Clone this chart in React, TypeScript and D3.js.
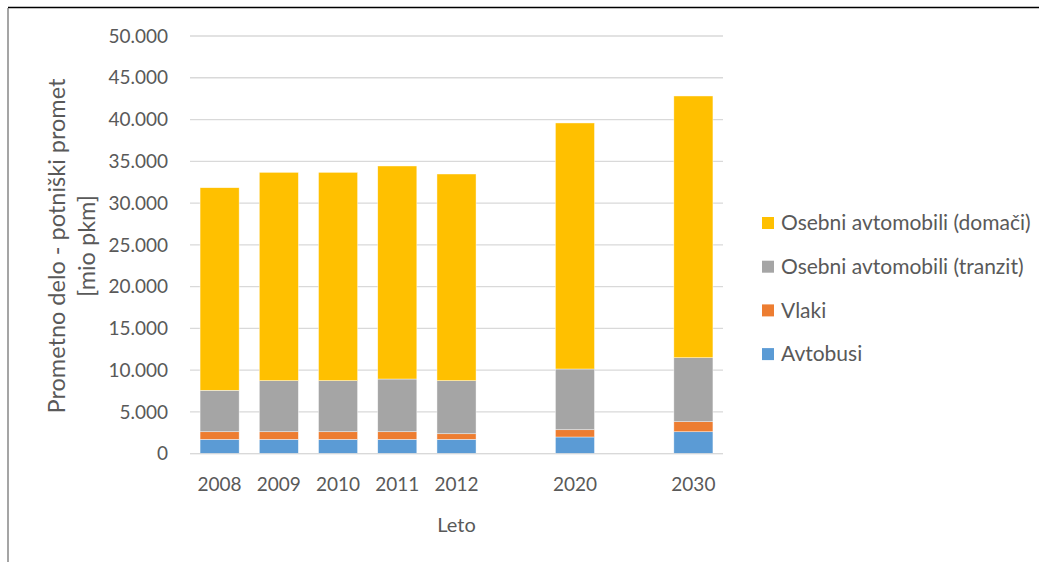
import React, { useEffect, useRef } from 'react';
import * as d3 from 'd3';

const categories = ['2008', '2009', '2010', '2011', '2012', 'gap1', '2020', 'gap2', '2030'];
const years = ['2008', '2009', '2010', '2011', '2012', '2020', '2030'];
const avtobusi = [1720, 1720, 1720, 1720, 1720, 2000, 2630];
const vlaki = [910, 910, 910, 910, 670, 870, 1200];
const tranzit = [4960, 6110, 6110, 6310, 6350, 7270, 7660];
const domaci = [24250, 24940, 24940, 25500, 24740, 29450, 31330];
const seriesNames = ['Avtobusi', 'Vlaki', 'Osebni avtomobili (tranzit)', 'Osebni avtomobili (domači)'];
const seriesColors = ['#5B9BD5', '#ED7D31', '#A5A5A5', '#FFC000'];
const yTicks = [0, 5000, 10000, 15000, 20000, 25000, 30000, 35000, 40000, 45000, 50000];

const FONT = 'Lato, "Open Sans", sans-serif';
const TEXT = '#595959';

export default () => {
  const svgRef = useRef<SVGSVGElement>(null);

  useEffect(() => {
    if (!svgRef.current) return;
    const svg = d3.select(svgRef.current);
    svg.selectAll('*').remove();

    // frame lines
    svg.append('line').attr('x1', 8).attr('x2', 1039).attr('y1', 7.5).attr('y2', 7.5)
      .attr('stroke', '#000').attr('stroke-width', 1.6);
    svg.append('line').attr('x1', 8).attr('x2', 8).attr('y1', 8).attr('y2', 562)
      .attr('stroke', '#7f7f7f').attr('stroke-width', 1.4);

    const x = d3.scaleBand().domain(categories).range([190, 723]).paddingInner(0.34).paddingOuter(0.17);
    const y = d3.scaleLinear().domain([0, 50000]).range([453.7, 36]);

    // gridlines
    svg.append('g').selectAll('line').data(yTicks).enter().append('line')
      .attr('x1', 190).attr('x2', 723)
      .attr('y1', d => y(d)).attr('y2', d => y(d))
      .attr('stroke', '#d9d9d9').attr('stroke-width', 1.3);

    // y tick labels
    const fmt = (d: number) => d3.format(',')(d).replace(/,/g, '.');
    svg.append('g').selectAll('text').data(yTicks).enter().append('text')
      .attr('x', 168).attr('y', d => y(d)).attr('dy', '0.35em')
      .attr('text-anchor', 'end')
      .attr('font-family', FONT).attr('font-size', 19).attr('fill', TEXT)
      .text(d => fmt(d));

    // stacked bars
    const rows = years.map((yr, i) => ({
      year: yr,
      s0: avtobusi[i], s1: vlaki[i], s2: tranzit[i], s3: domaci[i],
    }));
    const stack = d3.stack<any>().keys(['s0', 's1', 's2', 's3']);
    const layers = stack(rows);
    svg.append('g').selectAll('g').data(layers).enter().append('g')
      .attr('fill', (_d, i) => seriesColors[i])
      .selectAll('rect').data(d => d).enter().append('rect')
      .attr('x', d => x(d.data.year) as number)
      .attr('width', x.bandwidth())
      .attr('y', d => y(d[1]))
      .attr('height', d => y(d[0]) - y(d[1]))
      .attr('stroke', '#ffffff').attr('stroke-width', 0.6).attr('stroke-opacity', 0.7);

    // axis line over bars
    svg.append('line').attr('x1', 190).attr('x2', 723).attr('y1', y(0)).attr('y2', y(0))
      .attr('stroke', '#d9d9d9').attr('stroke-width', 1.3).attr('opacity', 0.7);

    // x labels
    svg.append('g').selectAll('text').data(years).enter().append('text')
      .attr('x', d => (x(d) as number) + x.bandwidth() / 2).attr('y', 491)
      .attr('text-anchor', 'middle')
      .attr('font-family', FONT).attr('font-size', 19).attr('fill', TEXT)
      .text(d => d);

    svg.append('text').attr('x', 456.5).attr('y', 532).attr('text-anchor', 'middle')
      .attr('font-family', FONT).attr('font-size', 20).attr('fill', TEXT).text('Leto');

    // y title
    const yt = svg.append('text').attr('transform', 'translate(0,246) rotate(-90)')
      .attr('text-anchor', 'middle')
      .attr('font-family', FONT).attr('font-size', 23.5).attr('fill', TEXT);
    yt.append('tspan').attr('x', 0).attr('y', 65).text('Prometno delo - potniški promet');
    yt.append('tspan').attr('x', 0).attr('y', 95).text('[mio pkm]');

    // legend (top to bottom reversed)
    const legendOrder = [3, 2, 1, 0];
    const lg = svg.append('g').selectAll('g').data(legendOrder).enter().append('g')
      .attr('transform', (_d, i) => `translate(762, ${223 + i * 43.7})`);
    lg.append('rect').attr('x', 0).attr('y', -6).attr('width', 12).attr('height', 12)
      .attr('fill', d => seriesColors[d]);
    lg.append('text').attr('x', 19).attr('y', 0).attr('dy', '0.35em')
      .attr('font-family', FONT).attr('font-size', 21).attr('fill', TEXT)
      .text(d => seriesNames[d]);
  }, []);

  return (
    <svg ref={svgRef} width={1039} height={562}
      style={{ position: 'absolute', left: 0, top: 0, background: '#fff' }} />
  );
};
